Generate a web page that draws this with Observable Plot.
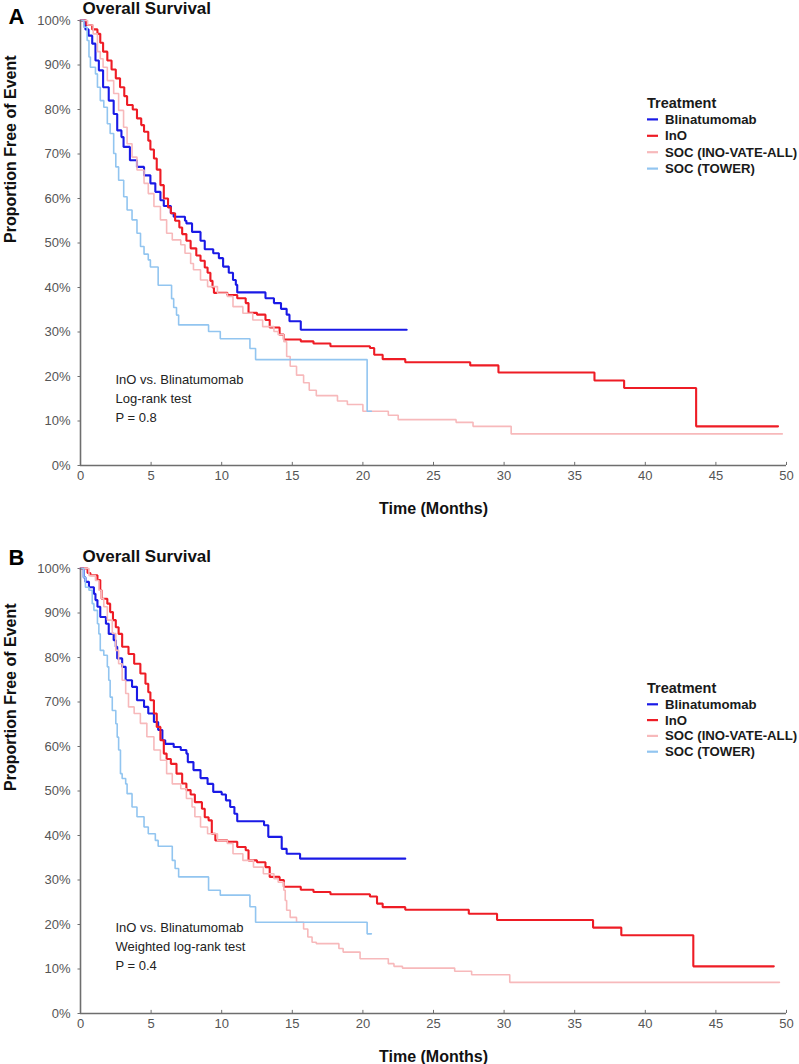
<!DOCTYPE html>
<html>
<head>
<meta charset="utf-8">
<script src="https://cdn.jsdelivr.net/npm/d3@7"></script>
<script src="https://cdn.jsdelivr.net/npm/@observablehq/plot@0.6"></script>
<style>
  body { margin: 0; background: #fff; font-family: "Liberation Sans", Arial, sans-serif; }
  svg { display: block; }
</style>
</head>
<body>
<div id="chart"></div>
<script>
// ---------- categories / styling keys ----------
const treatments = ["Blinatumomab", "InO", "SOC (INO-VATE-ALL)", "SOC (TOWER)"];
const colors = ["#1a1ae6", "#ee1c25", "#f7b9bb", "#92c5f0"];
const widths = [2.1, 2.1, 1.6, 1.6];
const xTicks = [0, 5, 10, 15, 20, 25, 30, 35, 40, 45, 50];
const yTicks = [0, 10, 20, 30, 40, 50, 60, 70, 80, 90, 100];

// ---------- Panel A: [time (months), % free of event] ----------
const aBlin = [[0,100],[0.35,98],[0.57,96.6],[0.83,94.8],[1.06,91],[1.3,88.8],[1.6,85],[2.0,82],[2.35,79],[2.6,75.3],[2.9,73.8],[3.05,71.6],[3.5,68.6],[4.0,67.1],[4.5,65.2],[4.95,63.4],[5.3,61.5],[5.66,59.6],[5.9,58.3],[6.4,56.7],[6.6,55.9],[7.4,55],[7.5,54.4],[7.9,52.5],[8.5,50.5],[8.8,48.6],[9.4,47.7],[9.8,46.6],[10.1,44.7],[10.5,43.3],[10.8,41.7],[11.0,40.6],[11.1,38.9],[13.1,37.6],[13.7,36.5],[14.2,35.2],[14.6,33.9],[14.8,32.4],[15.6,30.5],[23.1,30.5]];
const aIno = [[0,100],[0.42,99],[0.83,98],[1.2,97],[1.4,95],[1.6,93],[1.9,91],[2.2,89],[2.5,87],[2.8,85],[3.1,83],[3.3,81],[3.7,80],[4.0,78],[4.3,76.5],[4.5,75],[4.8,73],[4.95,71],[5.2,69],[5.4,66.5],[5.66,63],[5.9,60],[6.2,58],[6.4,56.7],[6.7,55],[7.0,53.5],[7.2,52],[7.5,50.5],[7.8,48.8],[8.2,47.2],[8.5,46],[8.8,44.5],[9.0,43.3],[9.2,41.5],[9.35,40],[9.45,38.8],[10.4,38.3],[11.1,37.6],[11.7,36.5],[11.9,34.3],[12.5,33.9],[13.1,32.7],[13.4,31],[14.1,29.4],[14.4,28.3],[15.6,27.9],[16.5,27.4],[17.7,26.8],[20.5,26.4],[20.8,24.9],[21.4,23.9],[23.0,23.2],[27.6,22.5],[29.6,20.9],[36.4,19.1],[38.5,17.4],[43.6,8.8],[49.4,8.8]];
const aSocIno = [[0,100],[0.5,99],[0.9,97],[1.2,93],[1.4,91.4],[1.6,89.5],[1.9,86.5],[2.35,83.6],[2.7,79.8],[3.05,76],[3.3,72.3],[3.65,69.3],[4.0,66.4],[4.5,63.4],[4.8,61.1],[5.2,58.2],[5.66,55.2],[6.1,52.2],[6.5,50.7],[7.1,49.6],[7.4,47.7],[7.8,45.4],[8.0,44],[8.5,41.7],[9.0,40.2],[9.7,38.7],[10.4,38],[10.8,35.7],[11.5,34.2],[12.2,32.7],[12.9,31.2],[13.7,30.1],[14.0,29.4],[14.4,27.8],[14.6,24.5],[14.85,22.3],[15.3,20.3],[15.8,18.6],[16.2,16.9],[16.7,15.7],[18.2,14.5],[18.9,13.7],[20.0,12.2],[21.8,11.3],[22.5,10.3],[26.6,9.7],[27.8,8.8],[30.5,7.1],[49.7,7.1]];
const aSocTower = [[0,100],[0.23,98.5],[0.47,95.5],[0.6,91.8],[0.7,89.5],[1.06,88],[1.2,85],[1.4,82],[1.65,80.5],[1.9,76.8],[2.1,74.6],[2.35,70.1],[2.5,67.1],[2.7,64.1],[3.06,60.4],[3.3,57.4],[3.65,55.2],[4.0,52.2],[4.25,49.2],[4.5,47.5],[4.8,46.2],[4.95,44.6],[5.5,40.5],[6.45,37.5],[6.6,35.5],[6.8,33.8],[6.95,31.6],[9.07,30.1],[9.9,28.5],[12.0,26.3],[12.4,23.8],[20.3,12.2],[20.6,12.2]];

// ---------- Panel B ----------
const bBlin = [[0,100],[0.23,98],[0.35,97],[0.6,95.8],[0.95,94.3],[1.06,92.9],[1.2,91.4],[1.4,89.1],[1.8,87.6],[2.0,85.3],[2.35,83.9],[2.5,82.4],[2.6,79.8],[2.95,77.9],[3.2,74.9],[3.65,73.4],[4.0,70.4],[4.5,68.9],[4.8,67.4],[5.2,65.5],[5.5,63.7],[5.8,61.4],[6.0,60.6],[6.6,59.9],[7.1,59.2],[7.5,58.4],[7.6,56.5],[8.0,54.7],[8.5,52.9],[9.0,51.6],[9.4,49.8],[10.0,49.2],[10.3,47.9],[10.6,46.4],[10.9,44.9],[11.1,43.2],[13.0,42.3],[13.3,39.7],[14.25,37],[14.6,35.9],[15.55,34.8],[23.0,34.8]];
const bIno = [[0,100],[0.5,99],[0.7,98.5],[1.2,97.4],[1.4,95.1],[1.5,93.2],[1.9,92.1],[2.1,90.2],[2.3,88.4],[2.5,86.8],[2.7,85.3],[2.95,82.4],[3.4,80.8],[3.8,78.6],[4.24,76.4],[4.6,74.1],[4.8,72.2],[4.95,70.4],[5.2,67.4],[5.4,64.4],[5.66,61.4],[5.9,58.4],[6.1,57.2],[6.4,56.1],[6.8,53.9],[7.2,51.7],[7.5,50.2],[7.8,49.2],[8.1,47.5],[8.6,46],[8.8,44.1],[9.07,43.4],[9.3,40.4],[9.55,38.9],[10.4,38.6],[11.1,37.4],[11.7,36.7],[11.9,34.4],[12.5,34],[13.1,32.9],[13.4,30.7],[14.1,30],[14.4,28.5],[15.6,27.8],[16.5,27.3],[17.7,26.8],[20.5,26.3],[21.0,24.7],[21.4,23.9],[23.0,23.3],[27.5,22.4],[29.5,21],[36.3,19.3],[38.3,17.6],[43.4,10.6],[49.1,10.6]];
const bSocIno = [[0,100],[0.6,98.4],[1.06,97.3],[1.3,95.1],[1.5,93.2],[1.65,91.4],[1.9,88.4],[2.25,85.4],[2.5,81.6],[2.7,78.6],[2.95,74.9],[3.2,71.9],[3.4,68.9],[3.8,67.4],[4.24,65.2],[4.7,62.2],[5.2,59.2],[5.66,56.9],[6.1,53.9],[6.5,51.6],[7.1,50.5],[7.5,48.3],[7.9,46.4],[8.1,44.2],[8.5,41.9],[9.0,40.4],[9.7,38.9],[10.4,38.2],[10.8,35.9],[11.5,34.4],[12.25,32.9],[12.95,31.4],[13.7,30.3],[14.0,29.5],[14.4,27.7],[14.5,25.4],[14.6,23.2],[14.85,21.6],[15.3,20.5],[15.8,19],[16.1,17.2],[16.4,16],[16.7,15.7],[18.3,14.6],[18.6,13.8],[19.8,12.3],[21.8,11.2],[22.2,10.6],[22.8,10.2],[26.5,9.5],[27.7,8.7],[30.4,7.0],[49.5,7.0]];
const bSocTower = [[0,100],[0.23,98],[0.35,95.8],[0.6,95.1],[0.83,92.1],[0.95,90.6],[1.2,87.6],[1.3,85.3],[1.4,81.6],[1.65,80.5],[1.9,77.9],[2.0,74.9],[2.1,71.1],[2.25,68.1],[2.5,65.1],[2.6,62.1],[2.7,59.2],[2.83,53.9],[2.95,52.8],[3.2,51.6],[3.3,49.4],[3.65,46.4],[4.0,44.2],[4.5,41.9],[4.8,40.4],[5.3,38.9],[5.5,37.6],[6.5,34.4],[6.7,32.6],[6.95,30.7],[9.07,27.7],[9.9,26.6],[12.0,24],[12.4,20.5],[20.3,17.9],[20.6,17.9]];

const aTest = ["InO vs. Blinatumomab", "Log-rank test", "P = 0.8"];
const bTest = ["InO vs. Blinatumomab", "Weighted log-rank test", "P = 0.4"];

const FONT = "Liberation Sans, Arial, Helvetica, sans-serif";
const AXIS = "#6e6e6e";

const panels = [
  {letter: "A", series: [aBlin, aIno, aSocIno, aSocTower], test: aTest,
   height: 540, marginTop: 20, marginBottom: 75, letterDy: 3.3, legendY: 107.5, legendStep: 16.4},
  {letter: "B", series: [bBlin, bIno, bSocIno, bSocTower], test: bTest,
   height: 524, marginTop: 28, marginBottom: 51, letterDy: -3.3, legendY: 153, legendStep: 15.8}
];

function makePanel(p) {
  const marks = [
    Plot.axisY(yTicks, {tickSize: 2.5, tickPadding: 7.5, tickFormat: d => d + "%", label: null,
      fontSize: 13, fill: "#555", stroke: AXIS}),
    Plot.axisX(xTicks, {tickSize: 0, tickPadding: 5, label: null, fontSize: 13, fill: "#555"}),
    Plot.ruleX(xTicks, {x: d => d, y1: 0, y2: 0.7, stroke: AXIS, strokeWidth: 1})
  ];
  p.series.forEach((s, i) => {
    marks.push(Plot.line(s, {x: d => d[0], y: d => d[1], curve: "step-after",
      stroke: colors[i], strokeWidth: widths[i], strokeLinejoin: "miter"}));
  });
  marks.push(
    Plot.ruleX([0], {stroke: AXIS, strokeWidth: 1.6}),
    Plot.ruleY([0], {stroke: AXIS, strokeWidth: 1.6}),
    // panel letter & title
    Plot.text([p.letter], {frameAnchor: "top-left", textAnchor: "start", lineAnchor: "bottom",
      dx: -72, dy: p.letterDy, fontSize: 22, fontWeight: "bold", fill: "#000"}),
    Plot.text(["Overall Survival"], {frameAnchor: "top-left", textAnchor: "start", lineAnchor: "bottom",
      dx: 2, dy: -7, fontSize: 17, fontWeight: "bold", fill: "#111"}),
    // axis titles
    Plot.text(["Time (Months)"], {frameAnchor: "bottom", lineAnchor: "bottom",
      dy: 48, fontSize: 16, fontWeight: "bold", fill: "#111"}),
    Plot.text(["Proportion Free of Event"], {frameAnchor: "left", lineAnchor: "middle", rotate: -90,
      dx: -70, fontSize: 16, fontWeight: "bold", fill: "#111"})
  );
  p.test.forEach((t, i) => {
    marks.push(Plot.text([t], {frameAnchor: "top-left", textAnchor: "start", lineAnchor: "middle",
      dx: 35, dy: 359 + 19 * i, fontSize: 13, fill: "#222"}));
  });

  const svg = Plot.plot({
    width: 799,
    height: p.height,
    marginLeft: 80,
    marginRight: 13,
    marginTop: p.marginTop,
    marginBottom: p.marginBottom,
    style: {fontFamily: FONT, fontSize: "13px", background: "#fff", color: "#555", overflow: "visible"},
    x: {domain: [0, 50]},
    y: {domain: [0, 100]},
    marks
  });

  // legend
  const g = d3.select(svg).append("g").attr("font-family", FONT).attr("fill", "#1a1a1a")
    .attr("text-anchor", "start");
  g.append("text").attr("x", 647).attr("y", p.legendY).attr("text-anchor", "start")
    .attr("font-size", 14.5).attr("font-weight", "bold").text("Treatment");
  treatments.forEach((name, i) => {
    const y = p.legendY + p.legendStep * (i + 1);
    g.append("line").attr("x1", 647).attr("x2", 658).attr("y1", y - 4.5).attr("y2", y - 4.5)
      .attr("stroke", colors[i]).attr("stroke-width", 2.2);
    g.append("text").attr("x", 665).attr("y", y).attr("text-anchor", "start")
      .attr("font-size", 13.2).attr("font-weight", "bold").text(name);
  });
  return svg;
}

const root = document.getElementById("chart");
panels.forEach(p => root.appendChild(makePanel(p)));
</script>
</body>
</html>
